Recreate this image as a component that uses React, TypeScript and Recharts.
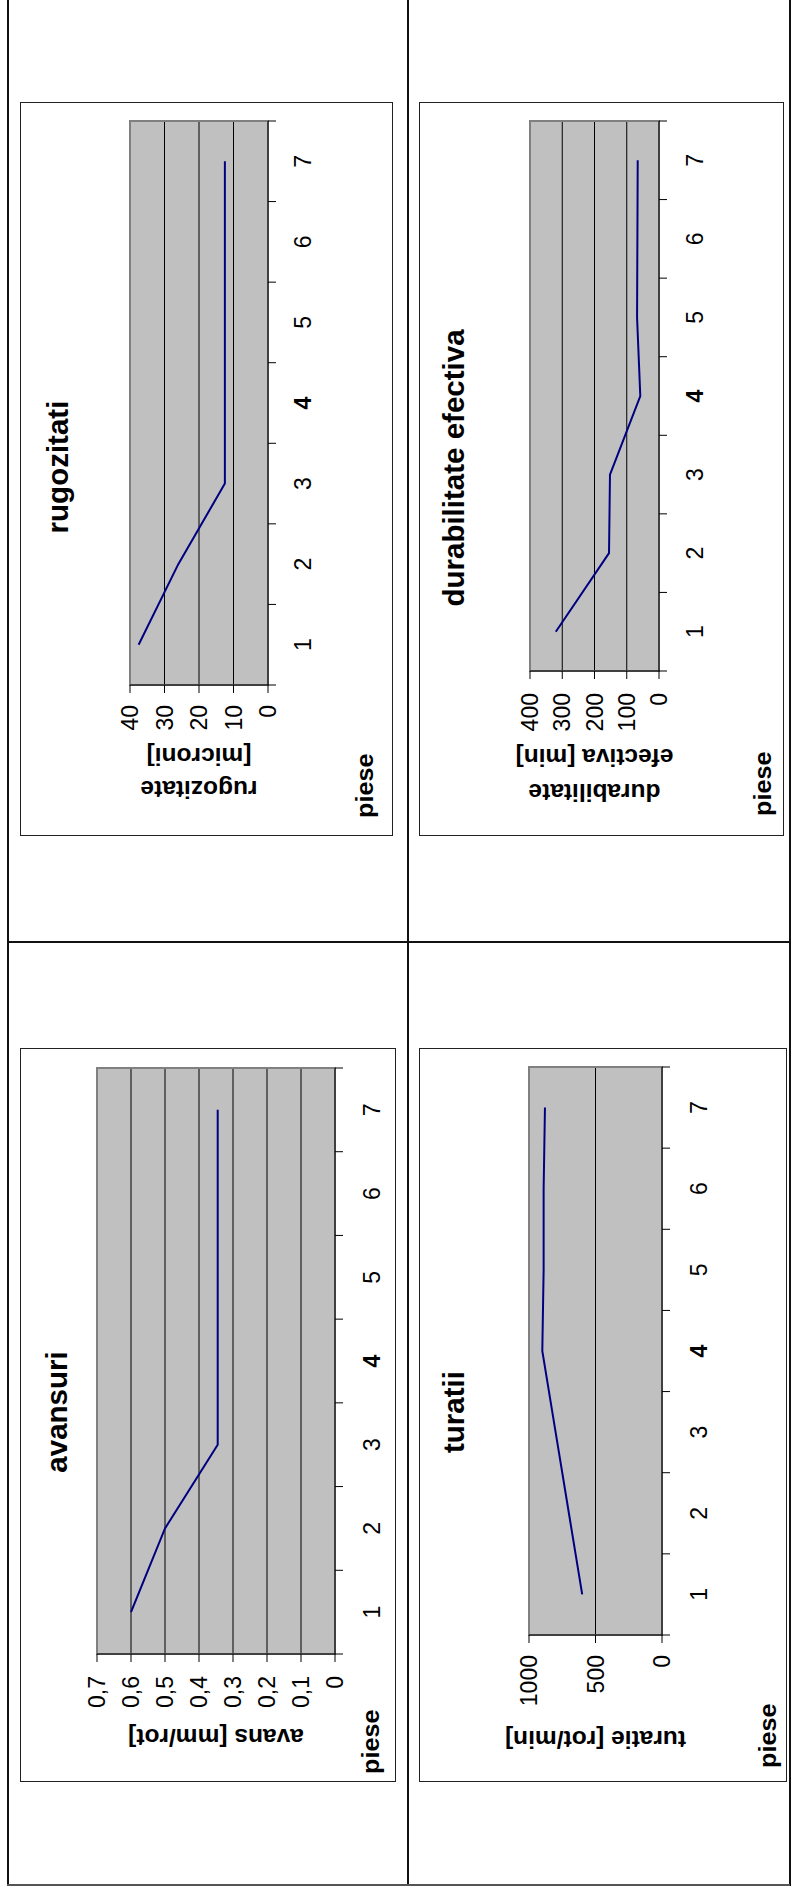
import React from "react"
import { LineChart, Line, XAxis, YAxis, CartesianGrid, ReferenceArea } from "recharts"

// piese (x) and the four measured series
const piese = [1, 2, 3, 4, 5, 6, 7]
const rugozitate = [37.5, 26, 12.5, 12.5, 12.5, 12.5, 12.5]
const durabilitate = [320, 155, 152, 58, 68, 67, 66]
const avans = [0.6, 0.5, 0.345, 0.345, 0.345, 0.345, 0.345]
const turatie = [600, 700, 800, 900, 890, 890, 880]

// value axis ticks
const rugTicks = [0, 10, 20, 30, 40]
const durTicks = [0, 100, 200, 300, 400]
const avTicks = [0, 0.1, 0.2, 0.3, 0.4, 0.5, 0.6, 0.7]
const turTicks = [0, 500, 1000]

// excel puts tick marks between categories, labels on them
const catTicks = [...piese.flatMap(n => [n - 0.5, n]), piese[piese.length - 1] + 0.5]

const FONT = "'Liberation Sans', Arial, sans-serif"
const AXW = 60 // room given to the y axis
const AXH = 50 // room given to the x axis

function SText({ x, y, rot = 0, k = 1, size, bold = false, anchor = "middle", children }: any) {
  return (
    <text
      transform={`translate(${x},${y}) rotate(${rot}) scale(${k},1)`}
      textAnchor={anchor}
      dominantBaseline="central"
      fontSize={size}
      fontWeight={bold ? "bold" : "normal"}
      fontFamily={FONT}
      fill="#000"
    >
      {children}
    </text>
  )
}

const comma = (v: number) => (v === 0 ? "0" : String(v).replace(".", ","))

function Panel(p: any) {
  // chart is drawn landscape then turned 90deg counter-clockwise
  const W = p.box.h
  const H = p.box.w
  const rows = piese.map((n, i) => ({ piesa: n, val: p.values[i] }))
  const yMax = p.ticks[p.ticks.length - 1]
  const midV = (p.plot.t + p.plot.b) / 2
  return (
    <>
      <div style={{ position: "absolute", left: p.box.x, top: p.box.y, width: p.box.w, height: p.box.h, border: "1.5px solid #222", boxSizing: "border-box" }} />
      <div style={{ position: "absolute", left: p.box.x, top: p.box.y + p.box.h, width: W, height: H, transformOrigin: "0 0", transform: "rotate(-90deg)" }}>
        <LineChart width={W} height={H} data={rows} margin={{ top: p.plot.t, right: W - p.plot.r, bottom: H - p.plot.b - AXH, left: p.plot.l - AXW }}>
          <CartesianGrid vertical={false} horizontalValues={p.ticks.slice(1, -1)} stroke="#000" fill="#c0c0c0" fillOpacity={1} />
          <ReferenceArea x1={0.5} x2={7.5} y1={0} y2={yMax} fill="none" stroke="#808080" strokeWidth={2} />
          <XAxis
            type="number"
            dataKey="piesa"
            domain={[0.5, 7.5]}
            ticks={catTicks}
            interval={0}
            height={AXH}
            tickSize={8}
            tickMargin={0}
            tickLine={false}
            axisLine={{ stroke: "#000" }}
            tick={(t: any) => {
              const v = t.payload.value
              if (v % 1 !== 0) return <line key={v} x1={t.x} x2={t.x} y1={p.plot.b} y2={p.plot.b + 8} stroke="#000" />
              return (
                <g key={v}>
                  <SText x={t.x} y={p.plot.b + p.catGap} size={23} bold={v === 4}>{v}</SText>
                </g>
              )
            }}
          />
          <YAxis
            type="number"
            domain={[0, yMax]}
            ticks={p.ticks}
            interval={0}
            width={AXW}
            tickSize={8}
            tickMargin={p.labelGap}
            axisLine={{ stroke: "#000" }}
            tickLine={{ stroke: "#000" }}
            tick={(t: any) => (
              <g key={t.payload.value}>
                <SText x={p.plot.l - 8 - p.labelGap} y={t.y} size={23} anchor="end">{p.fmt(t.payload.value)}</SText>
              </g>
            )}
          />
          <Line type="linear" dataKey="val" stroke="#000080" strokeWidth={2} dot={false} isAnimationActive={false} />
        </LineChart>
        <svg width={W} height={H} style={{ position: "absolute", left: 0, top: 0 }}>
          <SText x={p.titleU} y={p.titleV} size={29.5} bold>{p.title}</SText>
          {p.yLines.map((l: any) => (
            <SText key={l.t} x={l.u} y={midV} rot={-90} size={24.5} bold>{l.t}</SText>
          ))}
          <SText x={p.pieseU} y={p.pieseV} size={24} k={1.05} bold anchor="start">piese</SText>
        </svg>
      </div>
    </>
  )
}

const line = (s: any) => <div style={{ position: "absolute", background: "#111", ...s }} />

export default function App() {
  return (
    <div style={{ position: "absolute", left: 0, top: 0, width: 792, height: 1889, background: "#fff", overflow: "hidden" }}>
      {line({ left: 7, top: 0, width: 1.5, height: 1886 })}
      {line({ left: 407, top: 0, width: 1.5, height: 1886 })}
      {line({ left: 789, top: 0, width: 1.5, height: 1886 })}
      {line({ left: 7, top: 941, width: 783, height: 1.5 })}
      {line({ left: 7, top: 1884, width: 783, height: 2, background: "#555" })}

      <Panel
        box={{ x: 20, y: 102, w: 373, h: 734 }}
        plot={{ l: 151, r: 715, t: 110, b: 248 }}
        values={rugozitate}
        ticks={rugTicks}
        fmt={String}
        labelGap={12}
        catGap={35}
        title="rugozitati"
        titleU={369}
        titleV={37}
        yLines={[{ t: "rugozitate", u: 47 }, { t: "[microni]", u: 80 }]}
        pieseU={18}
        pieseV={345}
      />
      <Panel
        box={{ x: 419, y: 102, w: 365, h: 734 }}
        plot={{ l: 165, r: 715, t: 111, b: 240 }}
        values={durabilitate}
        ticks={durTicks}
        fmt={String}
        labelGap={14}
        catGap={35.5}
        title="durabilitate efectiva"
        titleU={368}
        titleV={34}
        yLines={[{ t: "durabilitate", u: 44 }, { t: "efectiva [min]", u: 78.5 }]}
        pieseU={20}
        pieseV={344}
      />
      <Panel
        box={{ x: 20, y: 1048, w: 376, h: 734 }}
        plot={{ l: 128, r: 714, t: 77, b: 315 }}
        values={avans}
        ticks={avTicks}
        fmt={comma}
        labelGap={14}
        catGap={37}
        title="avansuri"
        titleU={370}
        titleV={36}
        yLines={[{ t: "avans [mm/rot]", u: 44.5 }]}
        pieseU={8}
        pieseV={351}
      />
      <Panel
        box={{ x: 419, y: 1048, w: 368, h: 734 }}
        plot={{ l: 147, r: 715, t: 110, b: 243 }}
        values={turatie}
        ticks={turTicks}
        fmt={String}
        labelGap={12}
        catGap={37}
        title="turatii"
        titleU={370}
        titleV={34}
        yLines={[{ t: "turatie [rot/min]", u: 43 }]}
        pieseU={14}
        pieseV={349}
      />
    </div>
  )
}
